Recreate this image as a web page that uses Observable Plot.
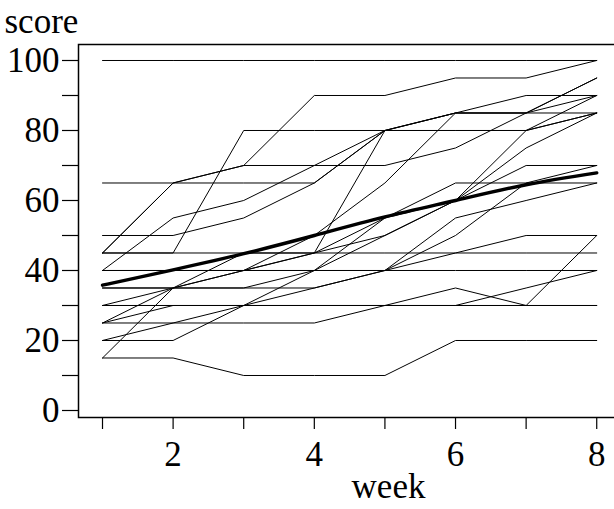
<!DOCTYPE html>
<html>
<head>
<meta charset="utf-8">
<script src="https://cdn.jsdelivr.net/npm/d3@7"></script>
<script src="https://cdn.jsdelivr.net/npm/@observablehq/plot@0.6"></script>
<style>
  html, body { margin: 0; padding: 0; background: #fff; }
</style>
</head>
<body>
<div id="chart"></div>
<script>
const weeks = [1, 2, 3, 4, 5, 6, 7, 8];
const subjectScores = [
  [100,100,100,100,100,100,100,100],
  [45,65,70,90,90,95,95,100],
  [45,65,70,70,70,75,85,95],
  [65,65,65,65,80,80,80,90],
  [45,45,80,80,80,85,90,90],
  [50,50,55,65,80,85,85,85],
  [40,55,60,70,80,80,80,85],
  [45,45,45,45,80,85,85,90],
  [35,35,40,50,65,85,85,95],
  [40,40,40,45,50,60,80,85],
  [30,35,35,40,50,60,75,85],
  [25,35,40,45,55,60,70,70],
  [40,40,40,40,40,50,65,70],
  [35,35,35,35,40,55,60,65],
  [30,30,30,40,55,65,65,65],
  [25,30,30,30,30,35,30,50],
  [20,20,30,30,30,30,35,40],
  [15,15,10,10,10,20,20,20],
  [40,40,40,40,40,40,40,40],
  [20,25,25,25,30,30,30,30],
  [25,25,30,35,40,45,45,45],
  [15,35,45,45,45,45,50,50],
  [30,30,30,30,30,30,30,30]
];
const meanScore = [35.8, 40.2, 44.8, 50.0, 55.3, 60.0, 64.5, 67.9];
const yTicks = [0,10,20,30,40,50,60,70,80,90,100];
const xTicks = [1,2,3,4,5,6,7,8];
const xLabel = "week";
const yLabel = "score";

const rows = subjectScores.flatMap((s, id) => s.map((v, i) => ({id, week: weeks[i], score: v})));
const meanRows = weeks.map((w, i) => ({week: w, score: meanScore[i]}));

const chart = Plot.plot({
  width: 614,
  height: 509,
  marginLeft: 78,
  marginRight: -2,
  marginTop: 44,
  marginBottom: 92,
  style: {fontFamily: "'Liberation Serif', 'Times New Roman', serif", fontSize: "34px", color: "black", background: "white"},
  x: {domain: [0.66, 8.28]},
  y: {domain: [-2, 104.57]},
  marks: [
    Plot.frame({stroke: "black", strokeWidth: 1.5}),
    Plot.axisY(yTicks, {tickSize: 16, tickPadding: 3, tickFormat: d => d % 20 === 0 ? d : "", label: null, fontSize: 35, strokeWidth: 1.2}),
    Plot.axisX(xTicks, {tickSize: 12, tickPadding: 12, tickFormat: d => d % 2 === 0 ? d : "", label: null, fontSize: 35, strokeWidth: 1.2}),
    Plot.line(rows, {x: "week", y: "score", z: "id", stroke: "black", strokeWidth: 1}),
    Plot.line(meanRows, {x: "week", y: "score", stroke: "black", strokeWidth: 3.4, curve: "natural"}),
    Plot.text([xLabel], {frameAnchor: "bottom", text: d => d, dx: 41, dy: 80, lineAnchor: "bottom", fontSize: 35}),
    Plot.text([yLabel], {frameAnchor: "top-left", text: d => d, dx: -74, dy: -12, textAnchor: "start", lineAnchor: "bottom", fontSize: 35})
  ]
});
document.getElementById("chart").appendChild(chart);
</script>
</body>
</html>
